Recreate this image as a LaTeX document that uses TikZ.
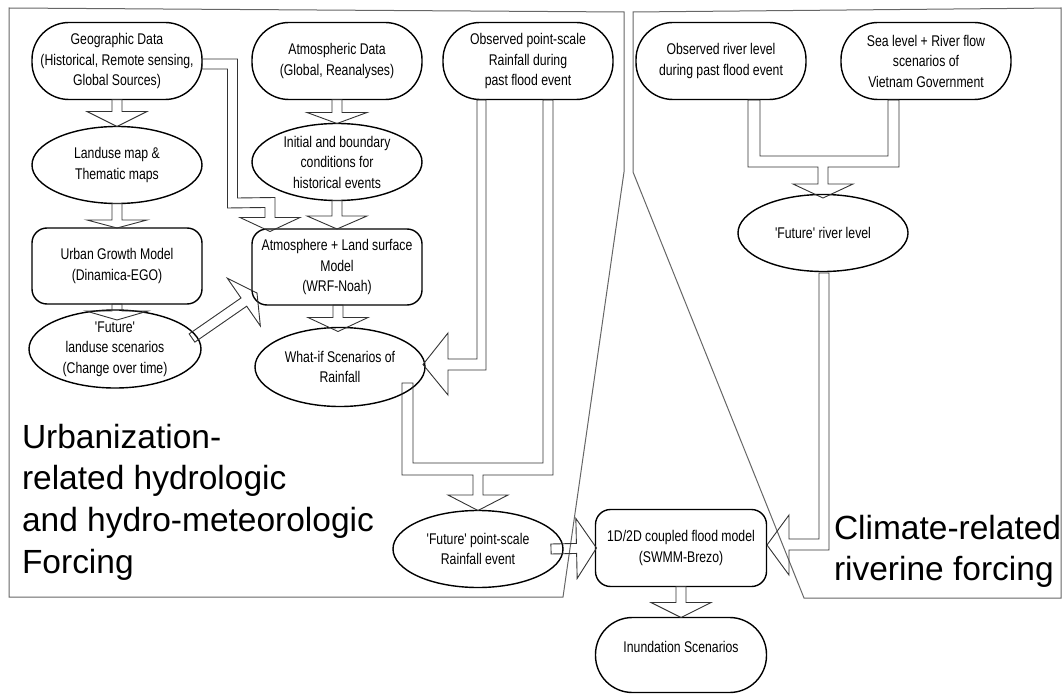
\documentclass[tikz,border=0pt]{standalone}
\usepackage{fontspec}
\usetikzlibrary{shapes.geometric,calc}
\newfontfamily\nodefont[FakeStretch=0.79]{Liberation Sans}
\newfontfamily\bigfont{Liberation Sans}
\newcommand\nodetext{\nodefont\fontsize{15.5}{20.5}\selectfont}
\newcommand\bigtext{\bigfont\fontsize{33.5}{41.7}\selectfont}
\tikzset{
  stadium/.style={rectangle, rounded corners=37pt, draw, line width=1.4pt, minimum width=170pt, minimum height=77pt, inner sep=2pt, outer sep=0pt, align=center, font=\nodetext},
  rbox/.style={rectangle, rounded corners=15pt, draw, line width=1.4pt, minimum width=170pt, minimum height=76pt, inner sep=2pt, outer sep=0pt, align=center, font=\nodetext},
  oval/.style={ellipse, draw, line width=1.4pt, minimum width=170pt, minimum height=77pt, inner sep=-8pt, outer sep=0pt, align=center, font=\nodetext},
  blk/.style={draw=black!80, line width=0.9pt, line join=miter},
  frame/.style={draw=black!60, line width=1pt},
  bigtextnode/.style={font=\bigtext, align=left, anchor=north west, inner sep=0pt, outer sep=0pt}
}
\newcommand\blockarrow[5]{%
  \path (#1) coordinate (ba-a) (#2) coordinate (ba-t);
  \path ($(ba-t)!#3!(ba-a)$) coordinate (ba-b);
  \draw[blk] ($(ba-a)!#5!90:(ba-t)$) -- ($(ba-b)!#5!90:(ba-t)$) -- ($(ba-b)!#4!90:(ba-t)$) -- (ba-t) -- ($(ba-b)!#4!-90:(ba-t)$) -- ($(ba-b)!#5!-90:(ba-t)$) -- ($(ba-a)!#5!-90:(ba-t)$) -- cycle;}
\begin{document}
\begin{tikzpicture}[x=1pt,y=-1pt]
\useasboundingbox (0,0) rectangle (1063,695);
% frames
\draw[frame] (9,8) -- (624,12) -- (624,172) -- (563,597) -- (9,597) -- cycle;
\draw[frame] (633,12) -- (1061,8) -- (1061,598) -- (804,598) -- (633,172) -- cycle;
% nodes
\node[stadium] (geo) at (117,61) {Geographic Data\\(Historical, Remote sensing,\\Global Sources)};
\node[stadium] (atm) at (337,61) {Atmospheric Data\\(Global, Reanalyses)};
\node[stadium] (obsrain) at (528,61) {Observed point-scale\\Rainfall during\\past flood event};
\node[stadium] (obsriver) at (721,61) {Observed river level\\during past flood event};
\node[stadium] (sea) at (926,61) {Sea level + River flow\\scenarios of\\Vietnam Government};
\node[oval] (land) at (117,165) {Landuse map \&\\Thematic maps};
\node[oval] (init) at (337,162) {Initial and boundary\\conditions for\\historical events};
\node[rbox] (ugm) at (117,266) {Urban Growth Model\\(Dinamica-EGO)};
\node[rbox] (alsm) at (337,267) {Atmosphere + Land surface\\Model\\(WRF-Noah)};
\node[oval, minimum width=172pt, minimum height=78pt] (fland) at (115,349) {'Future'\\landuse scenarios\\(Change over time)};
\node[oval, minimum height=79pt] (whatif) at (340,367) {What-if Scenarios of\\Rainfall};
\node[oval] (friver) at (823,233) {'Future' river level};
\node[oval] (fpoint) at (478,549) {'Future' point-scale\\Rainfall event};
\node[rbox, minimum width=171pt, minimum height=77pt] (flood) at (681,548) {1D/2D coupled flood model\\(SWMM-Brezo)};
\node[stadium, minimum width=171pt, minimum height=75pt] (inund) at (681,655) {};
\node[font=\nodetext, inner sep=0pt] (inundtext) at (681,647) {Inundation Scenarios};
% straight block arrows
\blockarrow{geo.south}{land.north}{15pt}{30pt}{5pt}
\blockarrow{land.south}{ugm.north}{8pt}{30pt}{5pt}
\blockarrow{ugm.south}{$(fland.north)+(2,10)$}{9pt}{31pt}{5pt}
\blockarrow{atm.south}{init.north}{11pt}{30pt}{5pt}
\blockarrow{init.south}{alsm.north}{13pt}{30pt}{5pt}
\blockarrow{$(alsm.south)+(1,0)$}{$(whatif.north)+(-2,4)$}{14pt}{30pt}{5pt}
\blockarrow{$(fland.center)+(77,-11)$}{$(alsm.west)+(5,26)$}{16pt}{29pt}{5pt}
\blockarrow{$(fpoint.east)+(-12,0)$}{$(flood.west)+(1,0)$}{20pt}{30pt}{5pt}
\blockarrow{flood.south}{inund.north}{15pt}{30pt}{5pt}
% bent: geo -> alsm
\draw[blk] ($(geo.east)+(0,-2)$) -- ($(geo.east)+(35.5,-2)$) -- ($(geo.east)+(35.5,137)$) -- ($(alsm.north)+(-62,-31.5)$) -- ($(alsm.north)+(-62,-11.5)$) -- ($(alsm.north)+(-37,-11.5)$) -- ($(alsm.north)+(-67,2.5)$) -- ($(alsm.north)+(-97,-11.5)$) -- ($(alsm.north)+(-72,-11.5)$) -- ($(alsm.north)+(-72,-21.5)$) -- ($(geo.east)+(25.5,147)$) -- ($(geo.east)+(25.5,8)$) -- ($(geo.east)+(0,8)$) -- cycle;
% bent: obsrain -> whatif
\draw[blk] ($(obsrain.south)+(-51,0.5)$) -- ($(whatif.east)+(52,-8)$) -- ($(whatif.east)+(23,-8)$) -- ($(whatif.east)+(23,-34)$) -- ($(whatif.east)+(-2,-2.5)$) -- ($(whatif.east)+(23,28)$) -- ($(whatif.east)+(23,3)$) -- ($(whatif.east)+(61,3)$) -- ($(obsrain.south)+(-42,0.5)$) -- cycle;
% merged: whatif + obsrain -> fpoint
\draw[blk] ($(whatif.center)+(62,16)$) -- ($(fpoint.north)+(-76,-35.5)$) -- ($(fpoint.north)+(-5,-35.5)$) -- ($(fpoint.north)+(-5,-15.5)$) -- ($(fpoint.north)+(-30,-15.5)$) -- (fpoint.north) -- ($(fpoint.north)+(30,-15.5)$) -- ($(fpoint.north)+(5,-15.5)$) -- ($(fpoint.north)+(5,-35.5)$) -- ($(fpoint.north)+(75,-35.5)$) -- ($(obsrain.south)+(25,0.5)$) -- ($(obsrain.south)+(15,0.5)$) -- ($(fpoint.north)+(65,-47.5)$) -- ($(fpoint.north)+(-65,-47.5)$) -- ($(whatif.center)+(73,16)$) -- cycle;
% bent: friver -> flood
\draw[blk] ($(friver.south)+(-4,1.5)$) -- ($(flood.east)+(52.5,-9)$) -- ($(flood.east)+(22.5,-9)$) -- ($(flood.east)+(22.5,-33)$) -- ($(flood.east)+(0.5,-3)$) -- ($(flood.east)+(22.5,27)$) -- ($(flood.east)+(22.5,2)$) -- ($(flood.east)+(62.5,2)$) -- ($(friver.south)+(6,1.5)$) -- cycle;
% merged: obsriver + sea -> friver
\draw[blk] ($(obsriver.south)+(27,0.5)$) -- ($(friver.north)+(-75,-27.5)$) -- ($(friver.north)+(-5,-27.5)$) -- ($(friver.north)+(-5,-10.5)$) -- ($(friver.north)+(-30,-10.5)$) -- ($(friver.north)+(0,3.5)$) -- ($(friver.north)+(30,-10.5)$) -- ($(friver.north)+(5,-10.5)$) -- ($(friver.north)+(5,-27.5)$) -- ($(friver.north)+(76,-27.5)$) -- ($(sea.south)+(-27,0.5)$) -- ($(sea.south)+(-38,0.5)$) -- ($(friver.north)+(65,-38.5)$) -- ($(friver.north)+(-63,-38.5)$) -- ($(obsriver.south)+(39,0.5)$) -- cycle;
% big labels
\node[bigtextnode] (urbtext) at (22,424) {Urbanization-\\related hydrologic\\and hydro-meteorologic\\Forcing};
\node[bigtextnode] (climtext) at (834,515) {Climate-related\\riverine forcing};
\end{tikzpicture}
\end{document}
